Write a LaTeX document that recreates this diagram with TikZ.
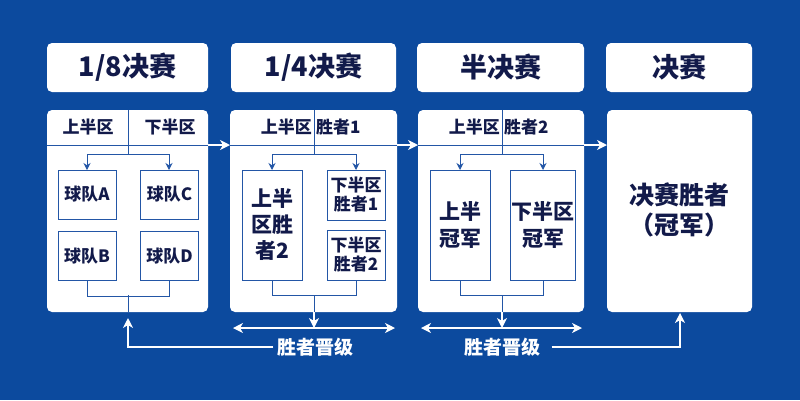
\documentclass[tikz,border=0pt]{standalone}
\usepackage{fontspec}
\setmainfont{Noto Sans CJK SC}
\usetikzlibrary{arrows.meta}
\definecolor{bg}{HTML}{0C4A9E}
\definecolor{ink}{HTML}{121A4A}
\definecolor{ln}{HTML}{2356A6}
\tikzset{x=1pt,y=-1pt,
 panel/.style={fill=white,rounded corners=5pt},
 title/.style={panel,font=\bfseries\fontsize{27}{29}\selectfont,text=ink},
 tbox/.style={draw=ln,line width=1pt,fill=white,text=ink,align=center,inner sep=1pt},
 hd/.style={text=ink,font=\bfseries\fontsize{17}{19}\selectfont,inner sep=1pt},
 sb/.style={font=\bfseries\fontsize{17}{19}\selectfont},
 ln/.style={draw=ln,line width=1pt},
 la/.style={ln,-{Stealth[length=7pt,width=7pt]}},
 wa/.style={draw=white,line width=1.2pt,-{Stealth[length=10pt,width=10pt,inset=3pt]}},
 wd/.style={draw=white,line width=1.2pt,{Stealth[length=10pt,width=10pt,inset=3pt]}-{Stealth[length=10pt,width=10pt,inset=3pt]}},
 adv/.style={text=white,font=\bfseries\fontsize{19}{21}\selectfont}}
\begin{document}
\begin{tikzpicture}
\fill[bg] (0,0) rectangle (800,400);
\useasboundingbox (0,0) rectangle (800,400);
% titles
\path[title] (47,43) rectangle (208,92); \node[title,fill=none] (t1) at (127.5,67.5) {1/8决赛};
\path[title] (231,43) rectangle (396,92); \node[title,fill=none] (t2) at (313.5,67.5) {1/4决赛};
\path[title] (417,43) rectangle (584,92); \node[title,fill=none] (t3) at (500.5,67.5) {半决赛};
\path[title] (606,43) rectangle (752,92); \node[title,fill=none] (t4) at (679,67.5) {决赛};
% panels
\path[panel] (47,110) rectangle (208,312);
\path[panel] (230,110) rectangle (397,312);
\path[panel] (418,110) rectangle (584,312);
\path[panel] (607,110) rectangle (752,312);
% panel 1
\node[hd] (h1a) at (88,127) {上半区};
\node[hd] (h1b) at (170,127) {下半区};
\draw[ln] (128,110) -- (128,154);
\draw[ln] (47,145) -- (208,145);
\draw[wa] (208,145) -- (230,145);
\draw[ln] (87,154) -- (169,154);
\draw[la] (87,154) -- (87,170);
\draw[la] (169,154) -- (169,170);
\node[tbox,sb,minimum width=58pt,minimum height=49pt] (a) at (87,194.5) {球队A};
\node[tbox,sb,minimum width=58pt,minimum height=49pt] (b) at (87,256) {球队B};
\node[tbox,sb,minimum width=58pt,minimum height=49pt] (c) at (169.5,194.5) {球队C};
\node[tbox,sb,minimum width=58pt,minimum height=49pt] (d) at (169.5,256) {球队D};
\draw[ln] (b.south) -- ++(0,15) -| (d.south);
\draw[ln] (128,295) -- (128,312);
% panel 2
\node[hd,anchor=east] (h2a) at (313,127) {上半区};
\node[hd,anchor=west] (h2b) at (315,127) {胜者1};
\draw[ln] (314,110) -- (314,154);
\draw[ln] (230,145) -- (397,145);
\draw[wa] (397,145) -- (418,145);
\draw[ln] (272,154) -- (356,154);
\draw[la] (272,154) -- (272,170);
\draw[la] (356,154) -- (356,170);
\node[tbox,minimum width=60pt,minimum height=110pt,font=\bfseries\fontsize{21}{26}\selectfont] (e) at (272,225) {上半\\区胜\\者2};
\node[tbox,minimum width=58pt,minimum height=50pt,font=\bfseries\fontsize{17}{19}\selectfont] (f) at (356,195) {下半区\\胜者1};
\node[tbox,minimum width=58pt,minimum height=50pt,font=\bfseries\fontsize{17}{19}\selectfont] (g) at (356,255) {下半区\\胜者2};
\draw[ln] (e.south) -- ++(0,15) -| (g.south);
\draw[ln] (314,295) -- (314,312);
% panel 3
\node[hd,anchor=east] (h3a) at (501,127) {上半区};
\node[hd,anchor=west] (h3b) at (503,127) {胜者2};
\draw[ln] (502,110) -- (502,154);
\draw[ln] (418,145) -- (584,145);
\draw[wa] (584,145) -- (607,145);
\draw[ln] (460,154) -- (543,154);
\draw[la] (460,154) -- (460,170);
\draw[la] (543,154) -- (543,170);
\node[tbox,minimum width=60pt,minimum height=110pt,font=\bfseries\fontsize{21}{27}\selectfont] (h) at (460,225) {上半\\冠军};
\node[tbox,minimum width=60pt,minimum height=110pt,font=\bfseries\fontsize{21}{27}\selectfont] (i) at (543,225) {下半区\\冠军};
\draw[ln] (h.south) -- ++(0,15) -| (i.south);
\draw[ln] (502,295) -- (502,312);
% panel 4
\node[text=ink,font=\bfseries\fontsize{25}{30}\selectfont,align=center] (w) at (679,210) {决赛胜者\\（冠军）};
% bottom
\node[adv] (adv1) at (315,347) {胜者晋级};
\node[adv] (adv2) at (502,347) {胜者晋级};
\draw[wa] (adv1.west) -| (128,318);
\draw[wd] (233,328) -- (395,328);
\draw[wa] (314,312) -- (314,328);
\draw[wd] (421,328) -- (582,328);
\draw[wa] (502,312) -- (502,328);
\draw[wa] (adv2.east) ++(8,0) -| (680,313);
\end{tikzpicture}
\end{document}
